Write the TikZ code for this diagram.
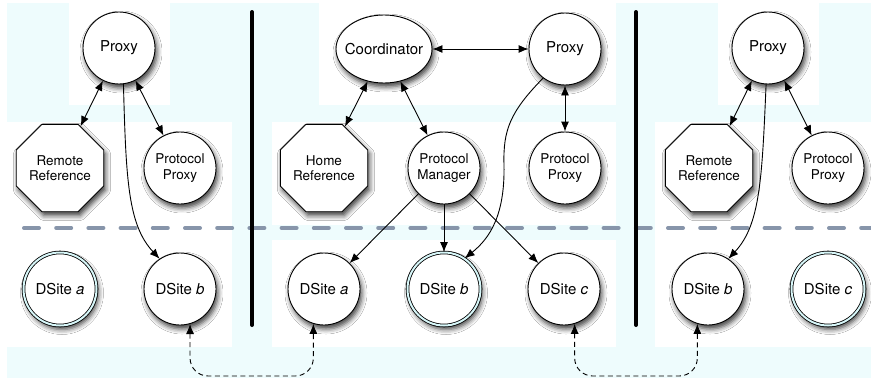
\documentclass[tikz,border=0pt]{standalone}
\usepackage{fontspec}
\setmainfont{TeX Gyre Heros}
\usetikzlibrary{arrows.meta,shapes.geometric,shadows.blur}
\definecolor{bgcyan}{RGB}{238,252,253}
\definecolor{ringcyan}{RGB}{215,246,248}
\definecolor{dashgrey}{RGB}{135,149,170}
\tikzset{
  nshadow/.style={blur shadow={shadow xshift=2pt, shadow yshift=-4pt, shadow blur radius=5pt, shadow opacity=75}},
  onefont/.style={font=\fontsize{15}{17}\selectfont},
  twofont/.style={font=\fontsize{13.5}{15.5}\selectfont, align=center},
  circnode/.style={circle, draw, line width=0.9pt, fill=white, minimum size=72pt, inner sep=0pt, nshadow, onefont},
  twocirc/.style={circnode, twofont},
  dblnode/.style={circle, draw, line width=0.8pt, double=ringcyan, double distance=2pt, fill=white, minimum size=73pt, inner sep=0pt, nshadow, onefont},
  octnode/.style={regular polygon, regular polygon sides=8, draw, line width=0.9pt, fill=white, minimum size=80pt, inner sep=0pt, nshadow, twofont},
  ellnode/.style={ellipse, draw, line width=0.9pt, fill=white, minimum width=96pt, minimum height=68pt, inner sep=0pt, nshadow, onefont},
  conn/.style={line width=0.9pt},
  dconn/.style={line width=0.9pt, dash pattern=on 5pt off 3.5pt, rounded corners=18pt},
  sepline/.style={line width=4pt, line cap=round},
  >={Latex[length=10pt,width=8pt]}
}
\begin{document}
\begin{tikzpicture}[x=1pt,y=-1pt]
\useasboundingbox (0,0) rectangle (871,380);
% background
\fill[bgcyan] (7,3) rectangle (871,378);
\fill[white] (69,3) rectangle (170,105);
\fill[white] (0,122) rectangle (232,347);
\fill[white] (319,3) rectangle (616,105);
\fill[white] (272,122) rectangle (616,225);
\fill[white] (272,240) rectangle (616,347);
\fill[white] (718,3) rectangle (819,105);
\fill[white] (655,122) rectangle (871,347);
% dashed separator
\coordinate (HL1) at (24,228);
\coordinate (HL2) at (871,228);
\draw[dashgrey, line width=4pt, line cap=round, dash pattern=on 15pt off 17.2pt] (HL1) -- (HL2);
% vertical separators
\coordinate (V1t) at (252,12); \coordinate (V1b) at (252,325);
\coordinate (V2t) at (636,12); \coordinate (V2b) at (636,325);
\draw[sepline] (V1t) -- (V1b);
\draw[sepline] (V2t) -- (V2b);
% left panel
\node[circnode] (LP) at (119,48) {Proxy};
\node[octnode] (LRR) at (60,168) {Remote\\Reference};
\node[twocirc] (LPP) at (180,168) {Protocol\\Proxy};
\node[dblnode] (LDa) at (60,289) {DSite \textit{a}};
\node[circnode] (LDb) at (180,289) {DSite \textit{b}};
% middle panel
\node[ellnode] (MC) at (384,49) {\makebox[0pt]{Coordinator}};
\node[circnode] (MP) at (565,49) {Proxy};
\node[octnode] (MHR) at (324,168) {Home\\Reference};
\node[twocirc] (MPM) at (444,168) {Protocol\\Manager};
\node[twocirc] (MPP) at (565,168) {Protocol\\Proxy};
\node[circnode] (MDa) at (324,289) {DSite \textit{a}};
\node[dblnode] (MDb) at (444,289) {DSite \textit{b}};
\node[circnode] (MDc) at (564,289) {DSite \textit{c}};
% right panel
\node[circnode] (RP) at (768,48) {Proxy};
\node[octnode] (RRR) at (709,168) {Remote\\Reference};
\node[twocirc] (RPP) at (828,168) {Protocol\\Proxy};
\node[circnode] (RDb) at (708,289) {DSite \textit{b}};
\node[dblnode] (RDc) at (828,289) {DSite \textit{c}};
% connectors left
\draw[conn,<->] (LP) -- (LRR);
\draw[conn,<->] (LP) -- (LPP);
\draw[conn,->] (LP.-83) .. controls (126,180) and (128,225) .. (LDb.124);
% connectors middle
\draw[conn,<->] (MC) -- (MP);
\draw[conn,<->] (MC) -- (MHR);
\draw[conn,<->] (MC) -- (MPM);
\draw[conn,<->] (MP) -- (MPP);
\draw[conn,->] (MP.233) .. controls (510,112) and (503,130) .. (504,165) .. controls (505,215) and (490,238) .. (MDb.56);
\draw[conn,->] (MPM) -- (MDa);
\draw[conn,->] (MPM) -- (MDb);
\draw[conn,->] (MPM) -- (MDc);
% connectors right
\draw[conn,<->] (RP) -- (RRR);
\draw[conn,<->] (RP) -- (RPP);
\draw[conn,->] (RP.-93) .. controls (762,180) and (760,225) .. (RDb.56);
% bottom dashed links
\coordinate (B1) at (250,376);
\coordinate (B2) at (636,376);
\draw[dconn,<->] (LDb.-74) |- (B1) -| (MDa.-107);
\draw[dconn,<->] (MDc.-73) |- (B2) -| (RDb.-107);
\end{tikzpicture}
\end{document}
